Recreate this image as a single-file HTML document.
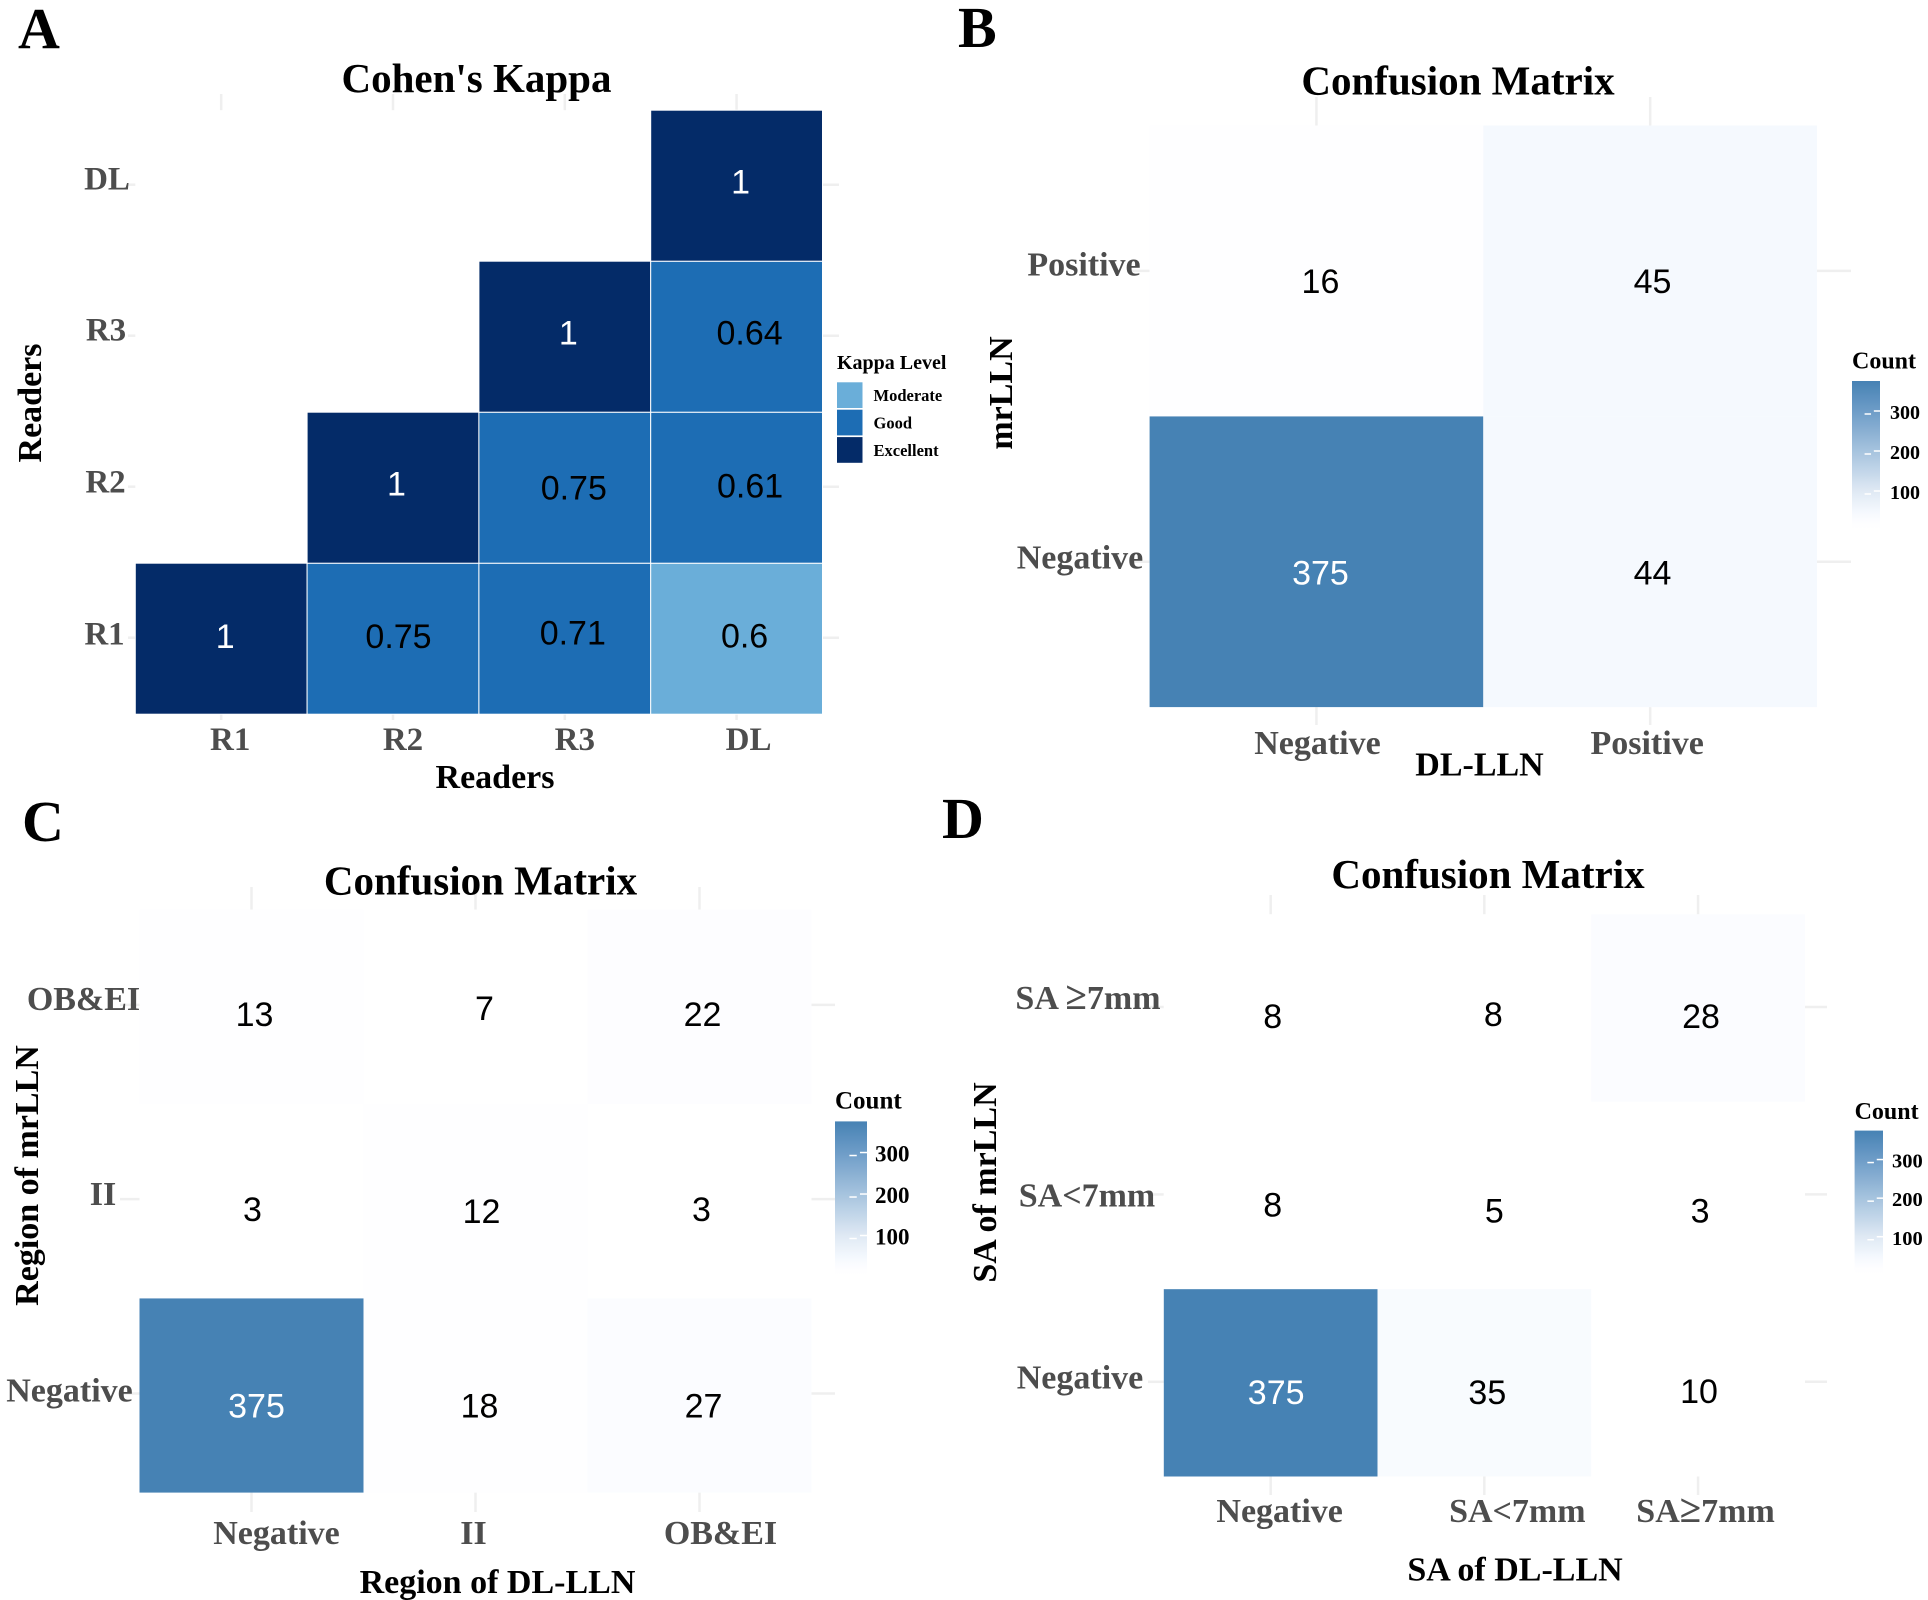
<!DOCTYPE html>
<html lang="en">
<head>
<meta charset="utf-8">
<title>Cohen's Kappa and Confusion Matrices</title>
<style>
  html,body{margin:0;padding:0;background:#fff;}
  svg{display:block;}
  text{font-family:"Liberation Serif","Noto Serif CJK SC",serif;font-weight:bold;}
  .cell-value{font-family:"Liberation Sans","DejaVu Sans",sans-serif;font-weight:normal;font-size:34px;text-anchor:middle;}
  .tick{fill:#4d4d4d;font-size:34px;text-anchor:middle;}
  .axis-title{fill:#000;font-size:34px;text-anchor:middle;}
  .title{fill:#000;font-size:41px;text-anchor:middle;}
  .panel-tag{fill:#000;font-size:58px;}
</style>
</head>
<body>
<svg id="figure" xmlns="http://www.w3.org/2000/svg" width="1928" height="1600" viewBox="0 0 1928 1600">
  <rect width="1928" height="1600" fill="#ffffff"/>
  <defs id="defs"></defs>

  <g id="layer-panels"></g>

  <text class="panel-tag" x="18" y="48">A</text>
  <text class="panel-tag" x="958" y="47">B</text>
  <text class="panel-tag" x="22" y="841">C</text>
  <text class="panel-tag" x="942" y="838">D</text>

  <text class="title" x="476.5" y="92">Cohen's Kappa</text>
  <text class="title" x="1458" y="94.5">Confusion Matrix</text>
  <text class="title" x="480.5" y="894.5">Confusion Matrix</text>
  <text class="title" x="1488" y="888">Confusion Matrix</text>

  <text class="axis-title" x="495" y="788">Readers</text>
  <text class="axis-title" transform="translate(41,403) rotate(-90)">Readers</text>
  <text class="axis-title" x="1479.5" y="775.5">DL-LLN</text>
  <text class="axis-title" transform="translate(1012,393) rotate(-90)">mrLLN</text>
  <text class="axis-title" x="497.5" y="1593">Region of DL-LLN</text>
  <text class="axis-title" transform="translate(38,1175.5) rotate(-90)">Region of mrLLN</text>
  <text class="axis-title" x="1515" y="1580.5">SA of DL-LLN</text>
  <text class="axis-title" transform="translate(996,1182.5) rotate(-90)">SA of mrLLN</text>

  <text x="837" y="369" style="font-size:20px">Kappa Level</text>
</svg>

<script>
/* ---------- chart data ---------- */
const kappaCategories = ['R1', 'R2', 'R3', 'DL'];
/* rows listed bottom to top; null = empty cell */
const kappaRowR1 = [1, 0.75, 0.71, 0.6];
const kappaRowR2 = [null, 1, 0.75, 0.61];
const kappaRowR3 = [null, null, 1, 0.64];
const kappaRowDL = [null, null, null, 1];
const kappaLevels = ['Moderate', 'Good', 'Excellent'];

const dlCategories = ['Negative', 'Positive'];
const dlRowNegative = [375, 44];
const dlRowPositive = [16, 45];

const regionCategories = ['Negative', 'II', 'OB&EI'];
const regionRowNegative = [375, 18, 27];
const regionRowII = [3, 12, 3];
const regionRowOBEI = [13, 7, 22];

const saColumnCategories = ['Negative', 'SA<7mm', 'SA≥7mm'];
const saRowCategories = ['Negative', 'SA<7mm', 'SA ≥7mm'];
const saRowNegative = [375, 35, 10];
const saRowSmall = [8, 5, 3];
const saRowLarge = [8, 8, 28];

const countLegendTicks = [100, 200, 300];
const countMin = 3;
const countMax = 375;

/* ---------- helpers ---------- */
const SVG_NS = 'http://www.w3.org/2000/svg';
const root = document.getElementById('layer-panels');
const defs = document.getElementById('defs');

function mk(tag, attrs, parent) {
  const node = document.createElementNS(SVG_NS, tag);
  for (const k in attrs) node.setAttribute(k, attrs[k]);
  (parent || root).appendChild(node);
  return node;
}
function bandScale(start, step) {
  return {
    start: i => start + i * step,
    center: i => start + (i + 0.5) * step,
    step: step
  };
}
/* rows are indexed from the bottom: row 0 is the lowest band */
function rowScale(top, step, n) {
  return {
    start: i => top + (n - 1 - i) * step,
    center: i => top + (n - 1 - i + 0.5) * step,
    step: step
  };
}
/* colour ramp: [fraction of count range, r, g, b] */
const countRamp = [
  [0, 255, 255, 255],
  [0.04, 254, 254, 255],
  [0.113, 245, 249, 254],
  [0.26, 223, 233, 244],
  [0.53, 166, 195, 222],
  [0.8, 109, 156, 199],
  [1, 70, 130, 180]
];
function countColor(v) {
  const f = Math.min(1, Math.max(0, (v - countMin) / (countMax - countMin)));
  let k = 0;
  while (k < countRamp.length - 2 && f > countRamp[k + 1][0]) k++;
  const a = countRamp[k], b = countRamp[k + 1];
  const t = (f - a[0]) / (b[0] - a[0]);
  const c = i => Math.round(a[i] + (b[i] - a[i]) * t);
  return 'rgb(' + c(1) + ',' + c(2) + ',' + c(3) + ')';
}
function kappaLevelIndex(v) {
  if (v <= 0.6) return 0;
  if (v <= 0.8) return 1;
  return 2;
}
const kappaLevelColors = ['#6aaed9', '#1d6db4', '#042b68'];

function setTickText(node, label) {
  const at = label.indexOf('≥');
  if (at < 0) {
    node.textContent = label;
    return;
  }
  node.appendChild(document.createTextNode(label.slice(0, at)));
  const sym = mk('tspan', {style: 'font-size:39px'}, node);
  sym.textContent = '≥';
  node.appendChild(document.createTextNode(label.slice(at + 1)));
}

function drawStubs(p, x, y) {
  p.columns.forEach((c, i) => {
    [[p.outer.top, y.start(p.rows.length - 1)], [y.start(0) + y.step, p.outer.bottom]].forEach(seg => {
      const el = mk('line', {x1: x.center(i), x2: x.center(i), y1: seg[0], y2: seg[1], stroke: '#efefef', 'stroke-width': 2.5});
      
      
    });
  });
  p.rows.forEach((r, j) => {
    [[p.outer.left, x.start(0)], [x.start(p.columns.length - 1) + x.step, p.outer.right]].forEach(seg => {
      const yy = y.center(j) + p.stubShift;
      const el = mk('line', {x1: seg[0], x2: seg[1], y1: yy, y2: yy, stroke: '#efefef', 'stroke-width': 2.5});
      
      
    });
  });
}

function drawPanel(p) {
  const x = bandScale(p.x0, p.xStep);
  const y = rowScale(p.y0, p.yStep, p.rows.length);
  drawStubs(p, x, y);

  p.matrix.forEach((row, j) => {
    row.forEach((v, i) => {
      if (v === null) return;
      const tile = mk('rect', {x: x.start(i), y: y.start(j), width: x.step, height: y.step, fill: p.fill(v), stroke: '#ffffff', 'stroke-width': p.tileStroke});
      
      
    });
  });
  p.matrix.forEach((row, j) => {
    row.forEach((v, i) => {
      if (v === null) return;
      const n = p.valueNudge[j][i];
      const label = mk('text', {class: 'cell-value', x: x.center(i) + n[0], y: y.center(j) + n[1] + 12, fill: p.textFill(v)});
      label.textContent = String(v);
      
      
    });
  });

  p.columns.forEach((c, i) => {
    const t = mk('text', {class: 'tick', x: x.center(i) + p.xTickNudge[i], y: p.xTickBaseline, style: 'font-size:' + p.tickSize + 'px'});
    setTickText(t, c);
    
    
  });
  p.rows.forEach((r, j) => {
    const n = p.yTickNudge[j];
    const t = mk('text', {class: 'tick', x: n[0], y: y.center(j) + n[1], style: 'font-size:' + p.tickSize + 'px'});
    setTickText(t, r);
    
    
  });
}

function drawCountLegend(p) {
  const L = p.legend;
  const legendY = v => L.top + (countMax - v) * L.pxPerCount;
  const grad = mk('linearGradient', {id: p.id + '-grad', x1: 0, y1: 0, x2: 0, y2: 1}, defs);
  for (let s = 0; s <= 30; s++) {
    const v = countMax - (countMax - countMin) * s / 30;
    mk('stop', {offset: (s / 30), 'stop-color': countColor(v)}, grad);
  }
  const title = mk('text', {x: L.x, y: L.titleBaseline, style: 'font-size:' + L.titleSize + 'px', fill: '#000'});
  title.textContent = 'Count';
  
  
  const bar = mk('rect', {x: L.x, y: legendY(countMax), width: L.width, height: legendY(countMin) - legendY(countMax), fill: 'url(#' + p.id + '-grad)'});
  
  
  countLegendTicks.forEach(v => {
    const yy = legendY(v);
    const right = mk('line', {x1: L.x + L.width * 0.78, x2: L.x + L.width, y1: yy, y2: yy, stroke: '#fff', 'stroke-width': 1.5});
    
    
    const left = mk('line', {x1: L.x + L.width * 0.45, x2: L.x + L.width * 0.68, y1: yy + 3, y2: yy + 3, stroke: '#fff', 'stroke-width': 1.5});
    
    
    const lab = mk('text', {x: L.labelX, y: yy + L.labelDy, style: 'font-size:' + L.labelSize + 'px', fill: '#000'});
    lab.textContent = String(v);
    
    
  });
}

/* ---------- panel A ---------- */
drawPanel({
  id: 'kappa',
  x0: 135.3, xStep: 171.8, y0: 110.2, yStep: 151,
  outer: {top: 94, bottom: 720, left: 128, right: 839},
  stubShift: -1,
  columns: kappaCategories, rows: kappaCategories,
  matrix: [kappaRowR1, kappaRowR2, kappaRowR3, kappaRowDL],
  fill: v => kappaLevelColors[kappaLevelIndex(v)],
  textFill: v => (v === 1 ? '#ffffff' : '#000000'),
  tileStroke: 1,
  tickSize: 33,
  valueNudge: [
    [[4, -2.5], [5.5, -2.5], [8, -6], [8, -3]],
    [[0, 0], [3.5, -4], [9, 0], [13.5, -2]],
    [[0, 0], [0, 0], [3.5, -4], [13, -4]],
    [[0, 0], [0, 0], [0, 0], [4, -4]]
  ],
  xTickNudge: [9, 10, 10, 12],
  xTickBaseline: 750,
  yTickNudge: [[104.5, 6], [105.5, 5], [106, 4], [107, 4]]
});

/* kappa legend */
kappaLevels.slice().forEach((name, i) => {
  const sw = mk('rect', {x: 837, y: 382.3 + i * 27.4, width: 25.5, height: 25.7, fill: kappaLevelColors[i]});
  
  
  const lab = mk('text', {x: 873.5, y: 401.2 + i * 27.5, style: 'font-size:16.5px', fill: '#000'});
  lab.textContent = name;
  
  
});

/* ---------- panel B ---------- */
drawPanel({
  id: 'dl-lln',
  x0: 1149.6, xStep: 333.7, y0: 125.5, yStep: 290.8,
  outer: {top: 97, bottom: 725, left: 1130, right: 1851},
  stubShift: 0,
  columns: dlCategories, rows: dlCategories,
  matrix: [dlRowNegative, dlRowPositive],
  fill: countColor,
  textFill: v => (v > 200 ? '#ffffff' : '#000000'),
  tileStroke: 0,
  tickSize: 34,
  valueNudge: [[[4, 10.7], [2.4, 10.7]], [[4, 10], [2.4, 10]]],
  xTickNudge: [1, -3],
  xTickBaseline: 754,
  yTickNudge: [[1080, 7], [1084, 4.5]]
});

/* ---------- panel C ---------- */
drawPanel({
  id: 'region',
  x0: 139.5, xStep: 224, y0: 909.7, yStep: 194.3,
  outer: {top: 887, bottom: 1512, left: 120, right: 835},
  stubShift: -2,
  columns: regionCategories, rows: regionCategories,
  matrix: [regionRowNegative, regionRowII, regionRowOBEI],
  fill: countColor,
  textFill: v => (v > 200 ? '#ffffff' : '#000000'),
  tileStroke: 0,
  tickSize: 34,
  valueNudge: [
    [[5, 10], [4, 10], [4, 10]],
    [[1, 8], [6, 10], [2, 8]],
    [[3, 7], [9, 1], [3, 7]]
  ],
  xTickNudge: [25, -2, 21],
  xTickBaseline: 1544,
  yTickNudge: [[69.5, 6], [103, 4], [83.5, 3]]
});

/* ---------- panel D ---------- */
drawPanel({
  id: 'sa',
  x0: 1163.8, xStep: 213.7, y0: 914.3, yStep: 187.4,
  outer: {top: 895, bottom: 1495, left: 1148, right: 1827},
  stubShift: -1,
  columns: saColumnCategories, rows: saRowCategories,
  matrix: [saRowNegative, saRowSmall, saRowLarge],
  fill: countColor,
  textFill: v => (v > 200 ? '#ffffff' : '#000000'),
  tileStroke: 0,
  tickSize: 34,
  valueNudge: [
    [[5.5, 9], [3, 9], [1, 8]],
    [[2, 9], [10, 15], [2, 15]],
    [[2, 8], [9, 6], [3, 8]]
  ],
  xTickNudge: [9, 33, 7.5],
  xTickBaseline: 1522,
  yTickNudge: [[1080, 5.5], [1087, 11], [1088, 1]]
});

/* ---------- count legends ---------- */
drawCountLegend({id: 'dl-lln', legend: {x: 1852, width: 28, top: 381, pxPerCount: 0.4, titleBaseline: 368.5, titleSize: 24, labelX: 1890, labelDy: 8, labelSize: 20}});
drawCountLegend({id: 'region', legend: {x: 835, width: 32, top: 1121.4, pxPerCount: 0.415, titleBaseline: 1108.5, titleSize: 25, labelX: 875, labelDy: 9, labelSize: 23}});
drawCountLegend({id: 'sa', legend: {x: 1854.6, width: 28.4, top: 1130.6, pxPerCount: 0.386, titleBaseline: 1119, titleSize: 24, labelX: 1892, labelDy: 8, labelSize: 20.5}});
</script>
</body>
</html>
